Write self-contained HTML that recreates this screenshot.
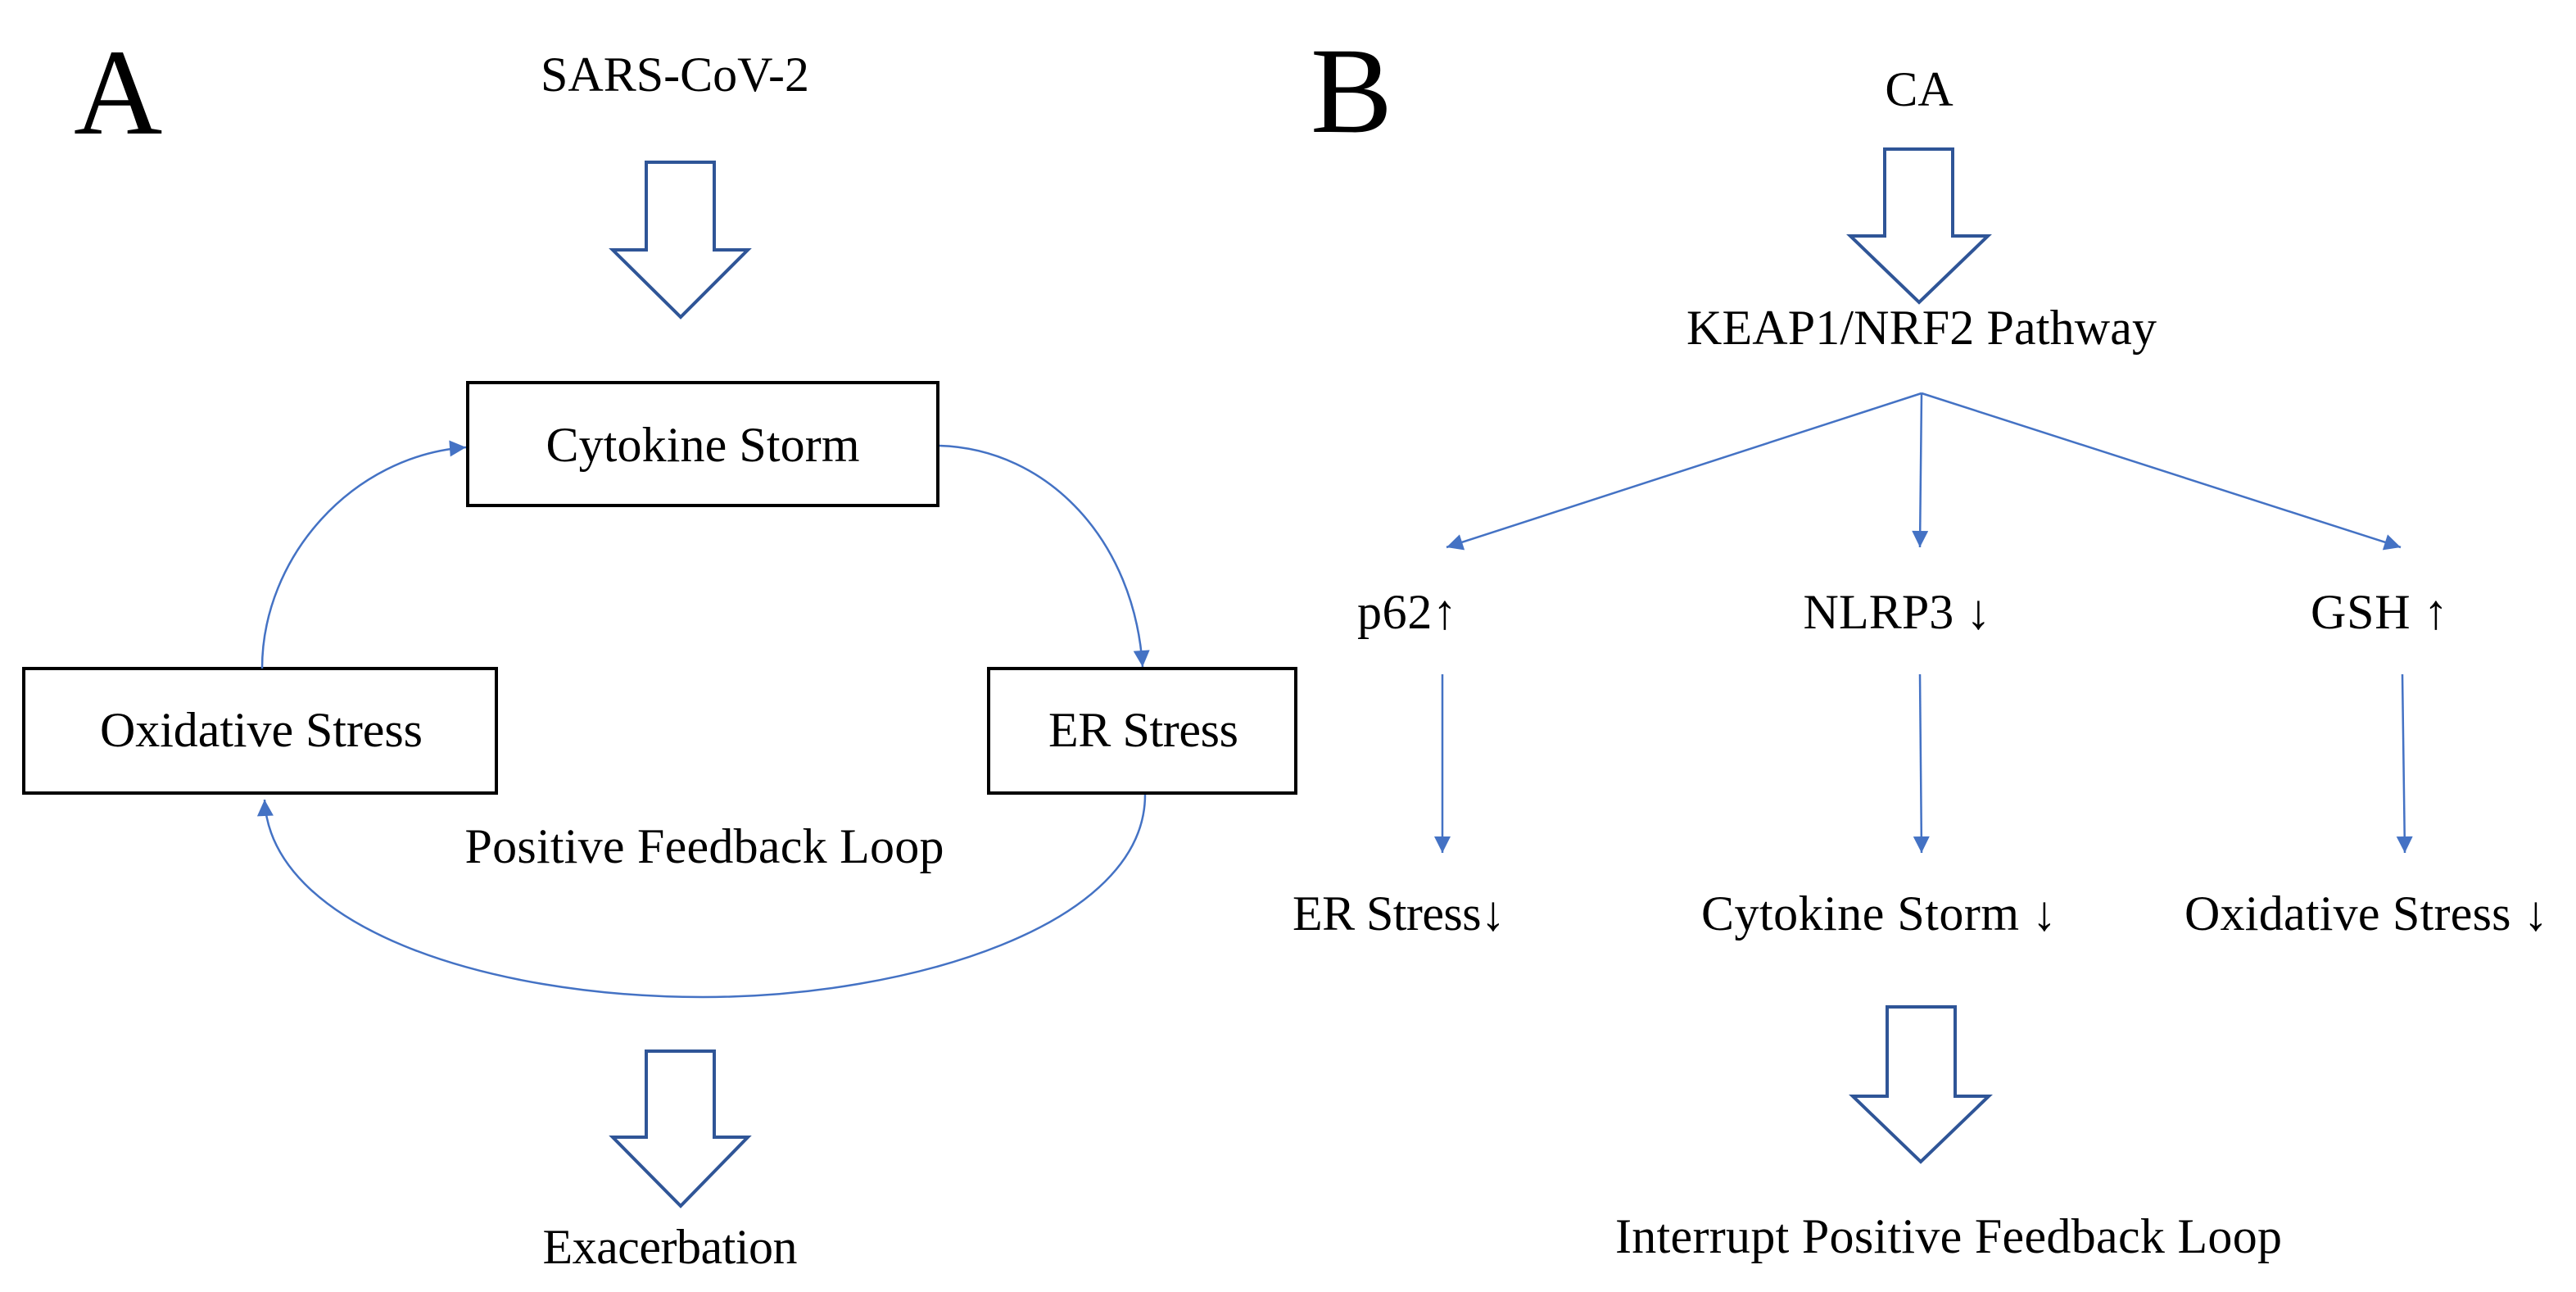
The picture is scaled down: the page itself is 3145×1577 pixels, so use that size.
<!DOCTYPE html>
<html><head><meta charset="utf-8"><style>
html,body{margin:0;padding:0;background:#fff}
svg{display:block}
text{font-family:"Liberation Serif",serif;fill:#000}
</style></head><body>
<svg width="3145" height="1577" viewBox="0 0 3145 1577" xmlns="http://www.w3.org/2000/svg">
<defs>
<marker id="ah" viewBox="0 0 10 10" refX="10" refY="5" markerWidth="10" markerHeight="10" markerUnits="userSpaceOnUse" orient="auto">
<path d="M0,0 L10,5 L0,10 z" fill="#4472C4"/>
</marker>
<marker id="ah2" viewBox="0 0 10 10" refX="10" refY="5" markerWidth="22" markerHeight="20" markerUnits="userSpaceOnUse" orient="auto">
<path d="M0,0 L10,5 L0,10 z" fill="#4472C4"/>
</marker>
</defs>
<rect width="3145" height="1577" fill="#fff"/>

<!-- Panel A -->
<text x="90" y="163" font-size="150">A</text>
<text x="824" y="111" font-size="60" text-anchor="middle">SARS-CoV-2</text>
<path d="M789,198 H872 V305 H913 L831,387 L748,305 H789 Z" fill="#fff" stroke="#2F5597" stroke-width="4" stroke-linejoin="miter"/>

<rect x="571" y="467" width="574" height="150" fill="#fff" stroke="#000" stroke-width="4"/>
<text x="858" y="563" font-size="60" text-anchor="middle" textLength="383" lengthAdjust="spacing">Cytokine Storm</text>

<rect x="29" y="816" width="577" height="152" fill="#fff" stroke="#000" stroke-width="4"/>
<text x="319" y="911" font-size="60" text-anchor="middle" textLength="394" lengthAdjust="spacing">Oxidative Stress</text>

<rect x="1207" y="816" width="375" height="152" fill="#fff" stroke="#000" stroke-width="4"/>
<text x="1396" y="911" font-size="60" text-anchor="middle" textLength="232" lengthAdjust="spacing">ER Stress</text>

<text x="860" y="1053" font-size="60" text-anchor="middle" textLength="585" lengthAdjust="spacing">Positive Feedback Loop</text>

<path d="M1147,544 C1280,548 1385,660 1395,814" fill="none" stroke="#4472C4" stroke-width="2.5" marker-end="url(#ah2)"/>
<path d="M320,816 C320,680 430,556 569,546" fill="none" stroke="#4472C4" stroke-width="2.5" marker-end="url(#ah2)"/>
<path d="M1398,970 C1398,1130 1110,1217 858,1217 C590,1217 330,1130 323,976" fill="none" stroke="#4472C4" stroke-width="2.5" marker-end="url(#ah2)"/>

<path d="M789,1283 H872 V1388 H913 L831,1472 L748,1388 H789 Z" fill="#fff" stroke="#2F5597" stroke-width="4"/>
<text x="818" y="1542" font-size="60" text-anchor="middle" textLength="311" lengthAdjust="spacing">Exacerbation</text>

<!-- Panel B -->
<text x="1600" y="161" font-size="150">B</text>
<text x="2343" y="129" font-size="60" text-anchor="middle">CA</text>
<path d="M2301,182 H2384 V288 H2427 L2343,369 L2259,288 H2301 Z" fill="#fff" stroke="#2F5597" stroke-width="4"/>
<text x="2346" y="420" font-size="60" text-anchor="middle" textLength="574" lengthAdjust="spacing">KEAP1/NRF2 Pathway</text>

<line x1="2346" y1="480" x2="1766" y2="668" stroke="#4472C4" stroke-width="2.5" marker-end="url(#ah2)"/>
<line x1="2346" y1="480" x2="2344" y2="668" stroke="#4472C4" stroke-width="2.5" marker-end="url(#ah2)"/>
<line x1="2346" y1="480" x2="2931" y2="668" stroke="#4472C4" stroke-width="2.5" marker-end="url(#ah2)"/>

<text x="1718" y="767" font-size="60" text-anchor="middle" textLength="122" lengthAdjust="spacing">p62↑</text>
<text x="2316" y="767" font-size="60" text-anchor="middle" textLength="229" lengthAdjust="spacing">NLRP3 ↓</text>
<text x="2905" y="767" font-size="60" text-anchor="middle" textLength="168" lengthAdjust="spacing">GSH ↑</text>

<line x1="1761" y1="823" x2="1761" y2="1041" stroke="#4472C4" stroke-width="2.5" marker-end="url(#ah2)"/>
<line x1="2344" y1="823" x2="2346" y2="1041" stroke="#4472C4" stroke-width="2.5" marker-end="url(#ah2)"/>
<line x1="2933" y1="823" x2="2936" y2="1041" stroke="#4472C4" stroke-width="2.5" marker-end="url(#ah2)"/>

<text x="1708" y="1135" font-size="60" text-anchor="middle" textLength="260" lengthAdjust="spacing">ER Stress↓</text>
<text x="2294" y="1135" font-size="60" text-anchor="middle" textLength="434" lengthAdjust="spacing">Cytokine Storm ↓</text>
<text x="2889" y="1135" font-size="60" text-anchor="middle" textLength="444" lengthAdjust="spacing">Oxidative Stress ↓</text>

<path d="M2304,1229 H2387 V1338 H2428 L2345,1418 L2262,1338 H2304 Z" fill="#fff" stroke="#2F5597" stroke-width="4"/>
<text x="2379" y="1529" font-size="60" text-anchor="middle" textLength="814" lengthAdjust="spacing">Interrupt Positive Feedback Loop</text>
</svg>
</body></html>
